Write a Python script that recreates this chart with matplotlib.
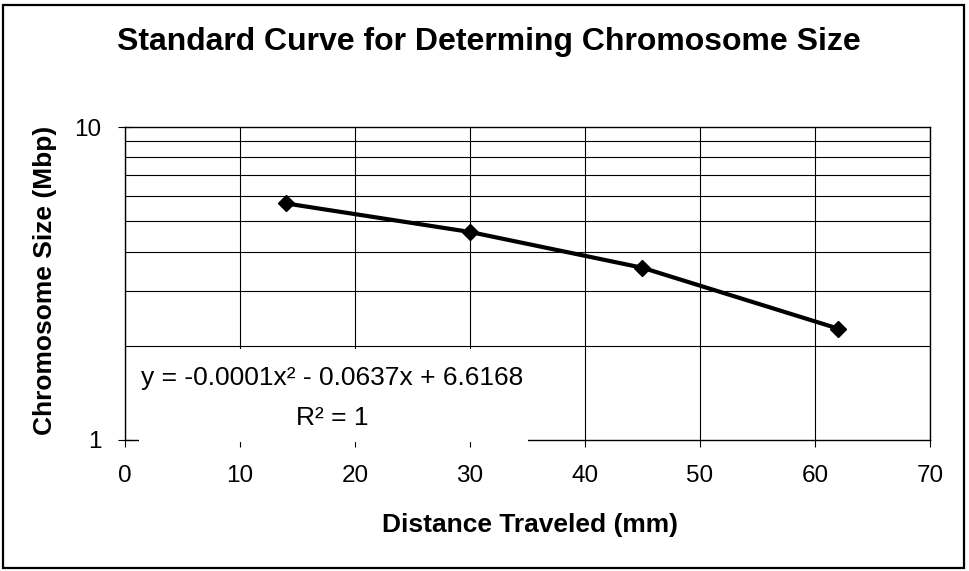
import matplotlib

matplotlib.use("Agg")

import matplotlib.pyplot as plt
from matplotlib.patches import Rectangle
from matplotlib.ticker import FixedLocator, NullFormatter

plt.rcParams.update(
    {
        "font.family": ["Liberation Sans", "DejaVu Sans"],
        "font.size": 17,
        "axes.linewidth": 1.0,
    }
)

# values
distance_mm = [14, 30, 45, 62]
size_mbp = [5.7, 4.62, 3.55, 2.27]
x_ticks = [0, 10, 20, 30, 40, 50, 60, 70]
y_major = [1, 10]
y_minor = [2, 3, 4, 5, 6, 7, 8, 9]

title = "Standard Curve for Determing Chromosome Size"
x_label = "Distance Traveled (mm)"
y_label = "Chromosome Size (Mbp)"
equation = "y = -0.0001x\u00b2 - 0.0637x + 6.6168"
r_squared = "R\u00b2 = 1"

W, H = 970, 571
fig = plt.figure(figsize=(W / 100, H / 100), dpi=100)
ax = fig.add_axes([125 / W, 1 - 440 / H, (930 - 125) / W, (440 - 127) / H])

ax.plot(distance_mm, size_mbp, color="black", linewidth=3.0, marker="D",
        markersize=8, markerfacecolor="black", markeredgecolor="black", zorder=3)

ax.set_yscale("log")
ax.set_xlim(0, 70)
ax.set_ylim(1, 10)
ax.set_xticks(x_ticks)
ax.set_xticklabels([str(t) for t in x_ticks])
ax.yaxis.set_major_locator(FixedLocator(y_major))
ax.set_yticklabels([str(t) for t in y_major])
ax.yaxis.set_minor_locator(FixedLocator(y_minor))
ax.yaxis.set_minor_formatter(NullFormatter())

ax.grid(True, axis="x", which="major", color="black", linewidth=0.8)
ax.grid(True, axis="y", which="minor", color="black", linewidth=0.8)
ax.tick_params(axis="x", direction="out", length=5, width=0.8, pad=13, labelsize=17.5)
ax.tick_params(axis="y", which="major", direction="inout", length=10, width=0.8, pad=12, labelsize=17.5)
ax.tick_params(axis="y", which="minor", length=0)

# white label box of the trendline equation, hides the grid under it
ax.add_artist(Rectangle((139 / W, 1 - 442 / H), (528 - 139) / W, (442 - 349) / H,
                        transform=fig.transFigure, facecolor="white", edgecolor="none",
                        clip_on=False, zorder=10))

fig.text(489 / W, 1 - 50 / H, title, ha="center", va="baseline",
         fontsize=23, fontweight="bold")
fig.text(530 / W, 1 - 532 / H, x_label, ha="center", va="baseline",
         fontsize=19, fontweight="bold")
fig.text(45 / W, 1 - 280 / H, y_label, ha="center", va="center",
         rotation=90, fontsize=19, fontweight="bold")
fig.text(332 / W, 1 - 385 / H, equation, ha="center", va="baseline", fontsize=19)
fig.text(332 / W, 1 - 425 / H, r_squared, ha="center", va="baseline", fontsize=19)

fig.patches.append(Rectangle((3 / W, 3 / H), 961 / W, 1 - 8 / H, transform=fig.transFigure,
                             fill=False, edgecolor="black", linewidth=1.6))

fig.savefig("out.png", dpi=100)
